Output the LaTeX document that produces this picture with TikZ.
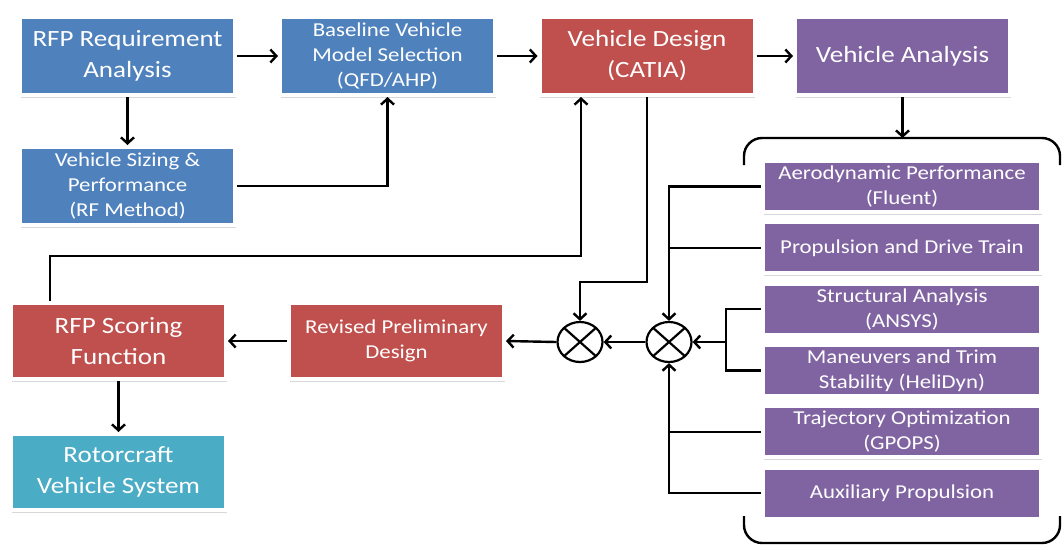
\documentclass[tikz,border=0pt]{standalone}
\usepackage{fontspec}
\setmainfont{Carlito}[FakeStretch = 1.16]
\usepackage{tikz}
\usetikzlibrary{positioning}
\usetikzlibrary{shapes.geometric}
\usetikzlibrary{shadows}
\usetikzlibrary{arrows.meta}

\definecolor{stageBlue}{HTML}{4F81BD}
\definecolor{stageRed}{HTML}{C0504D}
\definecolor{stagePurple}{HTML}{8064A2}
\definecolor{stageTeal}{HTML}{4BACC6}

\begin{document}
\begin{tikzpicture}[x = 1pt, y = -1pt,
                    stageBox/.style = {draw = white, line width = 4pt, rectangle, align = center, text = white, inner sep = 0pt,
                                       drop shadow = {shadow xshift = 0.5pt, shadow yshift = -2.5pt, fill = black!30}},
                    bigText/.style = {font = \fontsize{23.3}{31}\selectfont},
                    smallText/.style = {font = \fontsize{19.7}{25}\selectfont},
                    mainBox/.style = {stageBox, minimum width = 215pt, minimum height = 78pt},
                    toolBox/.style = {stageBox, smallText, fill = stagePurple, minimum width = 278pt, minimum height = 51pt},
                    sumNode/.style = {draw, line width = 2.2pt, ellipse, minimum width = 45pt, minimum height = 40pt, inner sep = 0pt,
                                      path picture = {\draw[line width = 2.2pt] (path picture bounding box.north west) -- (path picture bounding box.south east)
                                                                                (path picture bounding box.north east) -- (path picture bounding box.south west);}},
                    flow/.style = {line width = 2.4pt},
                    flowArrow/.style = {flow, -{Straight Barb[length = 6pt, width = 13pt]}}]
    \useasboundingbox (0,0) rectangle (1062,550);

    % top row
    \node [mainBox, bigText, fill = stageBlue]   (rfpReq)   at (127.5,56) {RFP Requirement\\Analysis};
    \node [mainBox, smallText, fill = stageBlue] (baseline) at (387.5,56) {Baseline Vehicle\\Model Selection\\(QFD/AHP)};
    \node [mainBox, bigText, fill = stageRed]    (design)   at (647,56)   {Vehicle Design\\(CATIA)};
    \node [mainBox, bigText, fill = stagePurple] (analysis) at (902.5,56) {Vehicle Analysis};

    \node [mainBox, smallText, fill = stageBlue] (sizing) at (127.5,186) {Vehicle Sizing \&\\Performance\\(RF Method)};

    % lower left
    \node [mainBox, bigText, fill = stageRed, minimum height = 76pt]   (scoring) at (118.5,341) {RFP Scoring\\Function};
    \node [mainBox, smallText, fill = stageRed, minimum height = 76pt] (revised) at (396.5,341) {Revised Preliminary\\Design};
    \node [mainBox, bigText, fill = stageTeal, minimum height = 76pt]  (rotor)   at (118.5,472) {Rotorcraft\\Vehicle System};

    % analysis tools
    \node [toolBox]                          (aero)   at (902,186.5) {Aerodynamic Performance\\(Fluent)};
    \node [toolBox, below = 6.3pt of aero]   (prop)   {Propulsion and Drive Train};
    \node [toolBox, below = 6.3pt of prop]   (struct) {Structural Analysis\\(ANSYS)};
    \node [toolBox, below = 6.3pt of struct] (man)    {Maneuvers and Trim\\Stability (HeliDyn)};
    \node [toolBox, below = 6.3pt of man]    (traj)   {Trajectory Optimization\\(GPOPS)};
    \node [toolBox, below = 6.3pt of traj]   (aux)    {Auxiliary Propulsion};

    % brackets round the tools
    \draw [flow, rounded corners = 18pt] (744,165) -- (744,138) -- (1060,138) -- (1060,165);
    \draw [flow, rounded corners = 18pt] (744,516) -- (744,543) -- (1060,543) -- (1060,516);
    \coordinate (braceTop) at (902.5,138);

    % summing junctions
    \node [sumNode] (sumL) at (580,342) {};
    \node [sumNode] (sumR) at (669,342) {};

    \coordinate (designTurn) at (647,282);
    \coordinate (feedTurn)   at (581,256);
    \coordinate (toolBus)    at (726,342);

    % connectors
    \draw [flowArrow] (rfpReq) -- (baseline);
    \draw [flowArrow] (baseline) -- (design);
    \draw [flowArrow] (design) -- (analysis);
    \draw [flowArrow] (rfpReq) -- (sizing);
    \draw [flowArrow] (sizing.east) -| (baseline.south);
    \draw [flowArrow] (analysis.south) -- (braceTop);

    \draw [flowArrow] (aero.west) -| (sumR.north);
    \draw [flow]      (prop.west) -- (prop.west -| sumR.north);
    \draw [flow]      (struct.west) -| (toolBus) |- (man.west);
    \draw [flowArrow] (toolBus) -- (sumR.east);
    \draw [flow]      (traj.west) -- (traj.west -| sumR.south);
    \draw [flowArrow] (aux.west) -| (sumR.south);

    \draw [flowArrow] (design.south) -- (designTurn) -| (sumL.north);
    \draw [flowArrow] (sumR.west) -- (sumL.east);
    \draw [flowArrow] (sumL.west) -- (revised.east);
    \draw [flowArrow] (revised.west) -- (scoring.east);
    \draw [flowArrow] (scoring.south) -- (rotor.north);
    \draw [flowArrow] ([xshift = 41pt]scoring.north west) |- (feedTurn) -- (feedTurn |- design.south);
\end{tikzpicture}
\end{document}
